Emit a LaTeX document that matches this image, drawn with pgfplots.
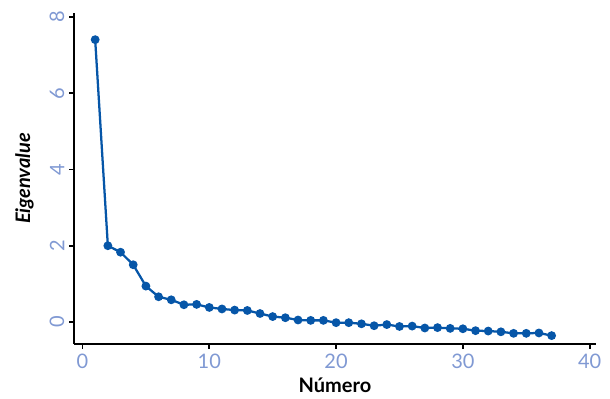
\documentclass[border=0pt]{standalone}
\usepackage{fontspec}
\setmainfont{Lato}
\usepackage{pgfplots}
\pgfplotsset{compat=1.18}
\definecolor{tickblue}{HTML}{8099D3}
\definecolor{lineblue}{HTML}{0656A8}
\begin{document}
\begin{tikzpicture}
\useasboundingbox (0pt,0pt) rectangle (457.5pt,299.25pt);
\begin{axis}[
  at={(55.5pt,41.25pt)}, anchor=south west,
  scale only axis, width=391.5pt, height=248.25pt,
  xmin=-0.67, xmax=40.5, ymin=-0.58, ymax=8.11,
  axis x line*=bottom, axis y line*=left,
  axis line style={-, line width=1.4pt, black},
  tick align=outside, major tick length=3.75pt,
  tick style={black, line width=1.4pt},
  xtick={0,10,20,30,40}, ytick={0,2,4,6,8},
  /pgf/number format/assume math mode=true,
  ticklabel style={font=\fontsize{15}{18}\selectfont, text=tickblue},
  yticklabel style={rotate=90, anchor=south},
  xlabel={\textbf{Número}}, ylabel={\textbf{\textit{Eigenvalue}}},
  label style={font=\fontsize{15}{18}\selectfont},
  xlabel style={yshift=-2.5pt, inner sep=1pt},
  ylabel style={yshift=5pt},
  clip=false,
]
\addplot[color=lineblue, line width=1.7pt, mark=*, mark size=2.4pt, mark options={fill=lineblue}] coordinates {
(1,7.41) (2,2.00) (3,1.83) (4,1.50) (5,0.94) (6,0.66) (7,0.58) (8,0.45) (9,0.46) (10,0.38)
(11,0.34) (12,0.31) (13,0.30) (14,0.22) (15,0.14) (16,0.11) (17,0.05) (18,0.04) (19,0.04) (20,-0.02)
(21,-0.02) (22,-0.05) (23,-0.10) (24,-0.07) (25,-0.12) (26,-0.11) (27,-0.16) (28,-0.15) (29,-0.17) (30,-0.18)
(31,-0.23) (32,-0.24) (33,-0.26) (34,-0.30) (35,-0.30) (36,-0.29) (37,-0.36)
};
\end{axis}
\end{tikzpicture}
\end{document}
